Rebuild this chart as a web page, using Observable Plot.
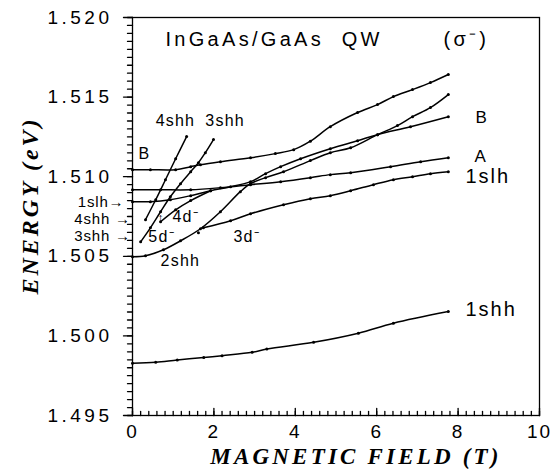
<!DOCTYPE html>
<html><head><meta charset="utf-8">
<script src="https://cdn.jsdelivr.net/npm/d3@7"></script>
<script src="https://cdn.jsdelivr.net/npm/@observablehq/plot@0.6"></script>
<style>
html,body{margin:0;padding:0;background:#fff;}
</style></head>
<body><div id="chart"></div>
<script>
// ---- data (magnetic field in T, energy in eV) ----
const field_top   = [0,0.44,1.06,1.43,1.67,2.16,2.90,3.51,3.96,4.37,4.86,5.53,6.02,6.41,6.88,7.32,7.76];
const energy_top  = [1.51044,1.51044,1.51044,1.51063,1.51075,1.51094,1.51119,1.51145,1.51170,1.51223,1.51314,1.51403,1.51453,1.51503,1.51547,1.51591,1.51642];
const field_A     = [0,0.69,1.43,2.16,2.90,3.64,4.37,4.86,5.36,6.34,7.08,7.76];
const energy_A    = [1.50918,1.50918,1.50918,1.50931,1.50950,1.50969,1.50994,1.51013,1.51025,1.51063,1.51094,1.51119];
const field_B     = [0,0.44,0.93,1.43,1.92,2.41,2.90,3.27,3.64,4.13,4.86,5.53,6.02,6.83,7.76];
const energy_B    = [1.50843,1.50843,1.50855,1.50881,1.50912,1.50937,1.50969,1.51019,1.51063,1.51113,1.51176,1.51226,1.51264,1.51314,1.51377];
const field_2shh  = [0,0.32,0.76,1.18,1.67,2.16,2.65,2.90,3.27,3.71,4.37,4.86,5.36,6.02,6.51,6.88,7.32,7.76];
const energy_2shh = [1.50497,1.50503,1.50541,1.50597,1.50673,1.50780,1.50906,1.50956,1.50994,1.51031,1.51101,1.51151,1.51182,1.51264,1.51321,1.51377,1.51434,1.51516];
const field_3d    = [1.74,2.41,2.90,3.71,4.37,4.86,5.36,5.92,6.41,6.88,7.32,7.76];
const energy_3d   = [1.50679,1.50723,1.50767,1.50824,1.50862,1.50881,1.50912,1.50950,1.50981,1.51000,1.51019,1.51031];
const field_4shh  = [0.32,0.57,0.81,1.06,1.33];
const energy_4shh = [1.50730,1.50855,1.50981,1.51113,1.51252];
const field_3shh  = [0.20,0.44,0.69,0.93,1.18,1.43,1.62,1.79,1.99];
const energy_3shh = [1.50591,1.50679,1.50780,1.50874,1.50956,1.51031,1.51088,1.51151,1.51233];
const field_4d    = [0.69,1.06,1.43,1.92];
const energy_4d   = [1.50717,1.50792,1.50850,1.50912];
const field_1shh  = [0,0.57,1.1,1.75,2.2,2.94,3.3,4.45,5.55,6.41,7.76];
const energy_1shh = [1.49828,1.49835,1.49849,1.49864,1.49876,1.49897,1.49918,1.49960,1.50017,1.50080,1.50153];
const field_stray  = [1.62];
const energy_stray = [1.50648];

// ---- ticks ----
const xMajor = [0,2,4,6,8,10];
const xMinor = d3.range(0, 51).map(i => i*0.2);
const yMajor = [1.495,1.500,1.505,1.510,1.515,1.520];
const yMinor = d3.range(0, 51).map(i => 1.495 + i*0.0005);

// ---- annotation texts ----
const titleText = ["InGaAs/GaAs\u00a0\u00a0QW", "(σ⁻)"];
const titleField = [0.81, 7.64];
const titleEnergy = [1.51862, 1.51862];
const midText = ["4shh","3shh","B","4d⁻","5d⁻","3d⁻","2shh"];
const midField = [0.57,1.79,0.15,0.98,0.39,2.48,0.69];
const midEnergy = [1.51352,1.51352,1.51145,1.50745,1.50623,1.50623,1.50472];
const rightText = ["B","A","1slh","1shh"];
const rightField = [8.43,8.40,8.18,8.18];
const rightEnergy = [1.51374,1.51126,1.51000,1.50164];
const leftText = ["1slh→","4shh →","3shh →"];
const leftField = [-0.20,-0.04,-0.04];
const leftEnergy = [1.50837,1.50736,1.50629];
const arrowText = ["↑"];
const arrowField = [0.69];
const arrowEnergy = [1.50742];

const curves = [
  ["top", field_top, energy_top], ["A", field_A, energy_A], ["B", field_B, energy_B],
  ["2shh", field_2shh, energy_2shh], ["3d", field_3d, energy_3d], ["4shh", field_4shh, energy_4shh],
  ["3shh", field_3shh, energy_3shh], ["4d", field_4d, energy_4d], ["1shh", field_1shh, energy_1shh]
];
const rows = curves.flatMap(([id, f, e]) => f.map((v, i) => ({id, field: v, energy: e[i]})));
const stray = field_stray.map((v, i) => ({field: v, energy: energy_stray[i]}));
const tbl = (t, f, e) => t.map((s, i) => ({text: s, field: f[i], energy: e[i]}));

// tick segments (frame edge -> tick length, expressed in data units)
const xBase = 0, yBase = 1.495;
const yTickMinor = 0.123, yTickMajor = 0.221, xTickMinor = 0.00025, xTickMajor = 0.00044;
const tickRows = [
  ...yMinor.flatMap((v, i) => [{id: "ym" + i, field: xBase, energy: v}, {id: "ym" + i, field: xBase - yTickMinor, energy: v}]),
  ...yMajor.flatMap((v, i) => [{id: "yM" + i, field: xBase, energy: v}, {id: "yM" + i, field: xBase - yTickMajor, energy: v}]),
  ...xMinor.flatMap((v, i) => [{id: "xm" + i, field: v, energy: yBase}, {id: "xm" + i, field: v, energy: yBase + xTickMinor}]),
  ...xMajor.flatMap((v, i) => [{id: "xM" + i, field: v, energy: yBase}, {id: "xM" + i, field: v, energy: yBase + xTickMajor}])
];

const sans = "Liberation Sans, Arial, Helvetica, sans-serif";
const serif = "Liberation Serif, Times New Roman, serif";

const plot = Plot.plot({
  width: 553, height: 469,
  marginLeft: 132, marginRight: 14, marginTop: 17, marginBottom: 54,
  x: {domain: [0, 10], label: null},
  y: {domain: [1.495, 1.520], label: null},
  style: "background:#fff;font-family:" + sans + ";",
  marks: [
    Plot.axisY({ticks: yMajor, tickSize: 0, tickPadding: 20, tickFormat: d3.format(".3f"), fontSize: 19, label: null, ariaDescription: "ytext"}),
    Plot.axisX({ticks: xMajor, tickSize: 0, tickPadding: 9, tickFormat: d => String(d), fontSize: 19, label: null, ariaDescription: "xtext"}),
    Plot.line(rows, {x: "field", y: "energy", z: "id", curve: "catmull-rom", stroke: "#000", strokeWidth: 1.5}),
    Plot.dot(rows, {x: "field", y: "energy", r: 1.5, fill: "#000", stroke: null}),
    Plot.dot(stray, {x: "field", y: "energy", r: 1.5, fill: "#000", stroke: null}),
    Plot.text(tbl(titleText, titleField, titleEnergy), {x: "field", y: "energy", text: "text", textAnchor: "start", lineAnchor: "middle", fontSize: 20, fontFamily: sans, fill: "#000", ariaDescription: "title"}),
    Plot.text(tbl(midText, midField, midEnergy), {x: "field", y: "energy", text: "text", textAnchor: "start", lineAnchor: "middle", fontSize: 16, fontFamily: sans, fill: "#000", ariaDescription: "mid"}),
    Plot.text(tbl(rightText.slice(0,2), rightField.slice(0,2), rightEnergy.slice(0,2)), {x: "field", y: "energy", text: "text", textAnchor: "start", lineAnchor: "middle", fontSize: 17, fontFamily: sans, fill: "#000", ariaDescription: "mid"}),
    Plot.text(tbl(rightText.slice(2), rightField.slice(2), rightEnergy.slice(2)), {x: "field", y: "energy", text: "text", textAnchor: "start", lineAnchor: "middle", fontSize: 20, fontFamily: sans, fill: "#000", ariaDescription: "right"}),
    Plot.text(tbl(leftText, leftField, leftEnergy), {x: "field", y: "energy", text: "text", textAnchor: "end", lineAnchor: "middle", fontSize: 15, fontFamily: sans, fill: "#000", ariaDescription: "left"}),
    Plot.text(tbl(arrowText, arrowField, arrowEnergy), {x: "field", y: "energy", text: "text", textAnchor: "middle", lineAnchor: "middle", fontSize: 13, fontFamily: sans, fill: "#000"}),
    Plot.text(["MAGNETIC FIELD (T)"], {text: d => d, frameAnchor: "bottom", textAnchor: "middle", lineAnchor: "middle", dx: 20, dy: 41, fontSize: 23, fontWeight: "bold", fontStyle: "italic", fontFamily: serif, fill: "#000", ariaDescription: "xlabel"}),
    Plot.text(["ENERGY (eV)"], {text: d => d, frameAnchor: "left", textAnchor: "middle", lineAnchor: "middle", rotate: -90, dx: -102, dy: -11, fontSize: 24, fontWeight: "bold", fontStyle: "italic", fontFamily: serif, fill: "#000", ariaDescription: "ylabel"}),
    Plot.line(tickRows, {x: "field", y: "energy", z: "id", stroke: "#000", strokeWidth: 1.3}),
    Plot.frame({stroke: "#000", strokeWidth: 1.3})
  ]
});
document.getElementById("chart").appendChild(plot);
const svg = d3.select(plot);
svg.selectAll('[aria-label$="tick label"] text').style("fill", "#000");
const ls = {ytext: "3.5px", xtext: "2px", title: "3.3px", mid: "1.2px", right: "2px", left: "0.8px", xlabel: "3.2px", ylabel: "3px"};
for (const k in ls) svg.selectAll(`[aria-description="${k}"] text`).style("letter-spacing", ls[k]);
</script>
</body></html>
